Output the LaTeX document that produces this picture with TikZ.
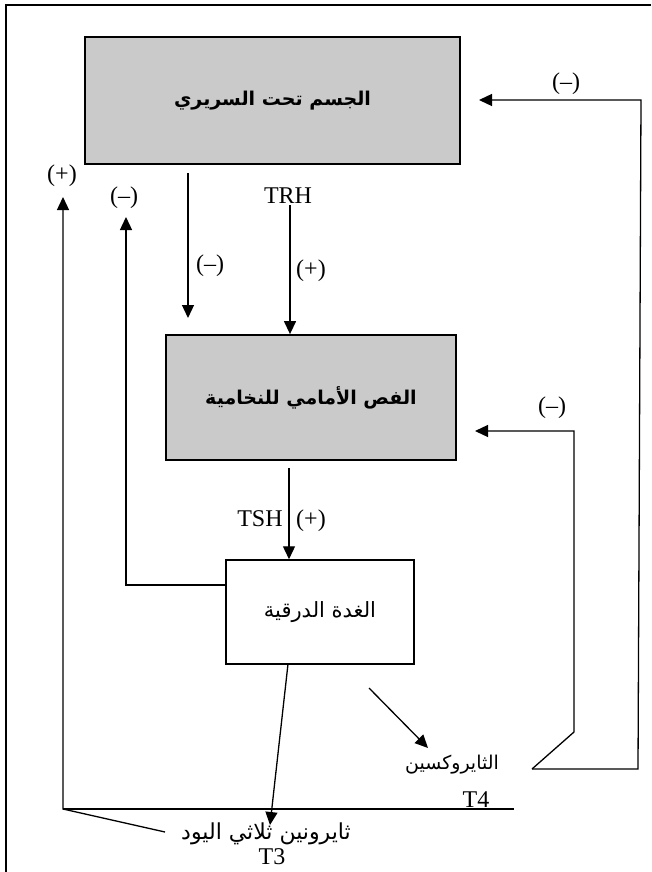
\documentclass[tikz,border=0pt]{standalone}
\usepackage{fontspec}
\setmainfont{Liberation Serif}
\newfontfamily\arabicfont[Script=Arabic]{DejaVu Sans}
\TeXXeTstate=1
\usetikzlibrary{arrows.meta}
\definecolor{boxgray}{RGB}{202,202,202}
\begin{document}
\begin{tikzpicture}[x=1pt,y=-1pt,
  line width=1.3pt,
  arr/.style={-{Triangle[length=13pt,width=12pt]}},
  gbox/.style={draw, line width=1.8pt, fill=boxgray, inner sep=0pt},
  wbox/.style={draw, line width=1.5pt, fill=white, inner sep=0pt},
  lbl/.style={font=\fontsize{24}{26}\selectfont, inner sep=0pt},
  ar/.style={font=\arabicfont\fontsize{19}{23}\selectfont, inner sep=0pt}]
\useasboundingbox (0,0) rectangle (651,872);
\fill[white] (0,0) rectangle (651,872);
\draw[line width=2pt] (6,872) -- (6,5) -- (651,5);

% boxes
\node[gbox, ar, minimum width=375pt, minimum height=127pt] (hyp) at (272.5,100.5) {\bfseries\beginR الجسم تحت السريري\endR};
\node[gbox, ar, minimum width=290pt, minimum height=125pt] (pit) at (311,397.5) {\bfseries\beginR الفص الأمامي للنخامية\endR};
\node[wbox, ar, font=\arabicfont\fontsize{21}{24}\selectfont, minimum width=188pt, minimum height=104pt] (thy) at (320,612) {\beginR الغدة الدرقية\endR};

% hormone labels
\node[ar] (t4) at (452,765) {\beginR الثايروكسين\endR};
\node[lbl] (t4l) at (476,800) {T4};
\node[ar, font=\arabicfont\fontsize{22}{24}\selectfont] (t3) at (266,834) {\beginR ثايرونين ثلاثي اليود\endR};
\node[lbl] (t3l) at (272,857) {T3};

% text labels
\node[lbl] (trh) at (288,196) {TRH};
\node[lbl] (tsh) at (260,519) {TSH};
\node[lbl] (s1) at (566,84) {(–)};
\node[lbl] (s2) at (62,176) {(+)};
\node[lbl] (s3) at (124,198) {(–)};
\node[lbl] (s4) at (210,266) {(–)};
\node[lbl] (s5) at (311,271) {(+)};
\node[lbl] (s6) at (552,408) {(–)};
\node[lbl] (s7) at (311,521) {(+)};

% coordinates
\coordinate (trhA) at (290,205);
\coordinate (hA) at (188,173);
\coordinate (hB) at (188,318);
\coordinate (tshA) at (289,468);
\coordinate (thyB) at (288,664);
\coordinate (t3tip) at (270,825);
\coordinate (d1) at (369,688);
\coordinate (d2) at (428,748);
\coordinate (f0) at (532,769);
\coordinate (f1) at (574,732);
\coordinate (f2) at (574,431);
\coordinate (f3) at (475,431);
\coordinate (o1) at (638,769);
\coordinate (o2) at (641,100);
\coordinate (o3) at (479,100);
\coordinate (g0) at (165,832);
\coordinate (g1) at (63,809);
\coordinate (g2) at (63,197);
\coordinate (g3) at (514,809);
\coordinate (m1) at (126,585);
\coordinate (m2) at (126,217);

% connectors
\draw[arr] (trhA) -- (trhA |- pit.north);
\draw[arr] (hA) -- (hB);
\draw[arr] (tshA) -- (tshA |- thy.north);
\draw[arr] (thyB) -- (t3tip);
\draw[arr] (d1) -- (d2);
\draw[arr] (f0) -- (f1) -- (f2) -- (f3);
\draw[arr] (f0) -- (o1) -- (o2) -- (o3);
\draw[arr] (g0) -- (g1) -- (g2);
\draw (g1) -- (g3);
\draw[arr] (m1 -| thy.west) -- (m1) -- (m2);
\end{tikzpicture}
\end{document}
